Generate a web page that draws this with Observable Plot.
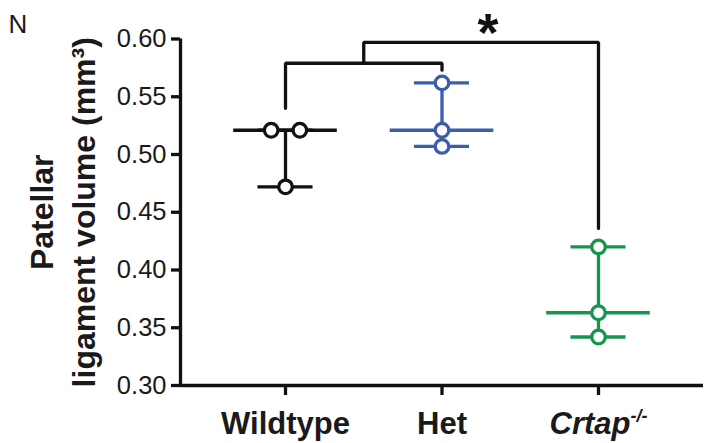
<!DOCTYPE html>
<html><head><meta charset="utf-8">
<script src="https://cdn.jsdelivr.net/npm/d3@7"></script>
<script src="https://cdn.jsdelivr.net/npm/@observablehq/plot@0.6"></script>
<style>
body{margin:0;background:#fff;}
#wrap{width:704px;height:443px;}
svg{display:block;}
</style></head><body>
<div id="wrap"></div>
<script>
// ---- data ----
const panelLabel = "N";
const groups = ["Wildtype", "Het", "Crtap"];
const groupSuperscript = ["", "", "-/-"];
const colors = ["#111111", "#3a5dae", "#17954f"];
const wildtype = [0.521, 0.521, 0.472];
const het = [0.562, 0.521, 0.507];
const crtap = [0.420, 0.363, 0.342];
const yTicks = [0.30, 0.35, 0.40, 0.45, 0.50, 0.55, 0.60];
const yDomain = [0.30, 0.60];
const yTitle = "Patellar\nligament volume (mm³)";
const significance = "*";
// comparison brackets: [group position, value]
const bracketInner = [[0, 0.540], [0, 0.579], [1, 0.579], [1, 0.573]];
const bracketOuter = [[0.5, 0.579], [0.5, 0.597], [2, 0.597], [2, 0.436]];

// ---- derived ----
const xDomain = [-0.671, 2.671];
const medianHalf = 0.331, capHalf = 0.176, jitter = 0.0915;
const series = [wildtype, het, crtap];
const points = [];
series.forEach((vals, i) => {
  vals.forEach((v, j) => {
    const same = vals.filter(u => Math.abs(u - v) < 0.003).length;
    let off = 0;
    if (same > 1) {
      const k = vals.filter((u, kk) => kk < j && Math.abs(u - v) < 0.003).length;
      off = k === 0 ? -1 : 1;
    }
    points.push({g: i, v, off, color: colors[i]});
  });
});
const summary = series.map((vals, i) => ({
  g: i, med: d3.median(vals), min: d3.min(vals), max: d3.max(vals), color: colors[i]
}));
const SW = 3.3;
const lineStyle = {stroke: "color", strokeWidth: SW};

const chart = Plot.plot({
  width: 704, height: 443,
  marginLeft: 180, marginRight: 1, marginTop: 38.5, marginBottom: 58,
  style: {fontFamily: '"Liberation Sans", Arial, Helvetica, sans-serif', color: "#111", background: "white"},
  x: {type: "linear", domain: xDomain},
  y: {domain: yDomain},
  color: {type: "identity"},
  marks: [
    Plot.text([panelLabel], {text: d => d, frameAnchor: "top-left", dx: -172, dy: -24, fontSize: 26,
      textAnchor: "start", lineAnchor: "top", fill: "#1a1a1a"}),
    Plot.ruleY([yDomain[0]], {strokeWidth: SW, stroke: "#111"}),
    Plot.ruleX([xDomain[0]], {strokeWidth: SW, stroke: "#111", y1: yDomain[0], y2: yDomain[1]}),
    Plot.axisY({ticks: yTicks, tickFormat: d3.format(".2f"), tickSize: 9, tickPadding: 5,
      fontSize: 25.5, strokeWidth: SW, label: null, stroke: "#111", fill: "#1a1a1a"}),
    Plot.axisX({ticks: [0, 1, 2], tickFormat: i => groups[i], tickSize: 10, tickPadding: 16,
      fontSize: 31, fontWeight: "bold", strokeWidth: SW, label: null, stroke: "#111", fill: "#1a1a1a"}),
    Plot.text([yTitle], {text: d => d, frameAnchor: "left", dx: -120, rotate: -90,
      fontSize: 32, fontWeight: "bold", lineHeight: 1.31, textAnchor: "middle", lineAnchor: "middle", fill: "#1a1a1a"}),
    Plot.line(bracketInner, {x: d => d[0], y: d => d[1], stroke: "#111", strokeWidth: SW, strokeLinejoin: "miter", curve: "linear"}),
    Plot.line(bracketOuter, {x: d => d[0], y: d => d[1], stroke: "#111", strokeWidth: SW, strokeLinejoin: "miter", curve: "linear"}),
    Plot.text([significance], {text: d => d, x: 1.25, y: 0.597, dx: 7, dy: -9, fontSize: 54,
      fontWeight: "bold", lineAnchor: "middle", fill: "#111"}),
    Plot.ruleX(summary, {x: "g", y1: "min", y2: "max", ...lineStyle}),
    Plot.ruleY(summary, {y: "min", x1: d => d.g - capHalf, x2: d => d.g + capHalf, ...lineStyle}),
    Plot.ruleY(summary, {y: "max", x1: d => d.g - capHalf, x2: d => d.g + capHalf, ...lineStyle}),
    Plot.ruleY(summary, {y: "med", x1: d => d.g - medianHalf, x2: d => d.g + medianHalf, ...lineStyle}),
    Plot.dot(points, {x: d => d.g + d.off * jitter, y: "v", r: 6.8, stroke: "color", fill: "white", strokeWidth: SW})
  ]
});
document.getElementById("wrap").appendChild(chart);

// italic genotype label with superscript
d3.select(chart).selectAll('g[aria-label="x-axis tick label"] text').each(function() {
  const t = d3.select(this);
  const i = groups.indexOf(this.textContent);
  if (i >= 0 && groupSuperscript[i]) {
    t.attr("font-style", "italic");
    t.append("tspan").attr("font-size", 18).attr("dy", "-12").text(groupSuperscript[i]);
  }
});
</script>
</body></html>
